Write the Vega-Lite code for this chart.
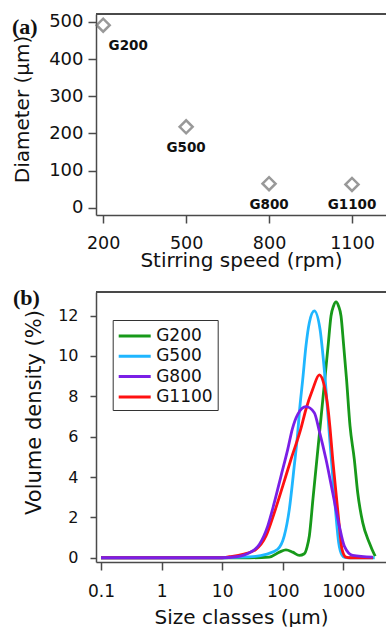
{
  "$schema": "https://vega.github.io/schema/vega-lite/v6.json",
  "background": "white",
  "padding": {"left": 11, "top": 12, "right": 0, "bottom": 0},
  "spacing": 16,
  "config": {
    "font": "DejaVu Sans",
    "view": {"stroke": null},
    "axis": {"grid": false, "domainColor": "#4a4a4a", "tickColor": "#4a4a4a", "domainWidth": 1.5, "tickWidth": 1.5, "labelColor": "#111", "titleColor": "#111", "labelFont": "DejaVu Sans", "titleFont": "DejaVu Sans", "titleFontWeight": "normal"}
  },
  "vconcat": [
    {
      "width": 290,
      "height": 201,
      "title": {"text": "(a)", "anchor": "start", "frame": "bounds", "font": "Liberation Serif", "fontSize": 22, "fontWeight": "bold", "color": "#111", "offset": -26},
      "data": {"values": [
        {"speed": 200, "diameter": 491, "sample": "G200"},
        {"speed": 500, "diameter": 218, "sample": "G500"},
        {"speed": 800, "diameter": 65, "sample": "G800"},
        {"speed": 1100, "diameter": 63, "sample": "G1100"}
      ]},
      "layer": [
        {
          "mark": {"type": "point", "shape": "diamond", "filled": false, "size": 170, "strokeWidth": 2.5, "color": "#6e6e6e"},
          "encoding": {
            "x": {"field": "speed", "type": "quantitative", "scale": {"domain": [174, 1223], "nice": false, "zero": false}, "axis": {"values": [200, 500, 800, 1100], "format": "d", "title": "Stirring speed (rpm)", "labelFontSize": 17.5, "titleFontSize": 20, "tickSize": 8, "labelPadding": 11, "titlePadding": -1}},
            "y": {"field": "diameter", "type": "quantitative", "scale": {"domain": [-19, 521], "nice": false, "zero": false}, "axis": {"values": [0, 100, 200, 300, 400, 500], "title": "Diameter (µm)", "labelFontSize": 18, "titleFontSize": 20, "tickSize": 8, "labelPadding": 5, "titleX": -64, "titleY": 95}}
          }
        },
        {
          "transform": [{"filter": "datum.sample === 'G200'"}],
          "mark": {"type": "text", "dx": 25, "dy": 21, "fontSize": 13.5, "fontWeight": "bold", "color": "#111"},
          "encoding": {
            "x": {"field": "speed", "type": "quantitative"},
            "y": {"field": "diameter", "type": "quantitative"},
            "text": {"field": "sample"}
          }
        },
        {
          "transform": [{"filter": "datum.sample !== 'G200'"}],
          "mark": {"type": "text", "dx": 0, "dy": 21, "fontSize": 13.5, "fontWeight": "bold", "color": "#111"},
          "encoding": {
            "x": {"field": "speed", "type": "quantitative"},
            "y": {"field": "diameter", "type": "quantitative"},
            "text": {"field": "sample"}
          }
        },
        {
          "mark": {"type": "rule", "color": "#4a4a4a", "strokeWidth": 1.5},
          "encoding": {"y": {"datum": 521, "type": "quantitative"}}
        }
      ]
    },
    {
      "width": 290,
      "height": 270,
      "title": {"text": "(b)", "anchor": "start", "frame": "bounds", "font": "Liberation Serif", "fontSize": 22, "fontWeight": "bold", "color": "#111", "offset": -19, "dx": -10},
      "data": {"values": [
        {"sample": "G200", "size": 0.1, "density": 0},
        {"sample": "G200", "size": 10, "density": 0},
        {"sample": "G200", "size": 28, "density": 0},
        {"sample": "G200", "size": 60, "density": 0.03},
        {"sample": "G200", "size": 88, "density": 0.28},
        {"sample": "G200", "size": 113, "density": 0.39},
        {"sample": "G200", "size": 146, "density": 0.28},
        {"sample": "G200", "size": 188, "density": 0.12},
        {"sample": "G200", "size": 227, "density": 0.2},
        {"sample": "G200", "size": 252, "density": 0.53},
        {"sample": "G200", "size": 275, "density": 1.08},
        {"sample": "G200", "size": 316, "density": 2.93},
        {"sample": "G200", "size": 368, "density": 4.94},
        {"sample": "G200", "size": 429, "density": 6.94},
        {"sample": "G200", "size": 499, "density": 8.94},
        {"sample": "G200", "size": 559, "density": 10.45},
        {"sample": "G200", "size": 627, "density": 11.98},
        {"sample": "G200", "size": 690, "density": 12.48},
        {"sample": "G200", "size": 758, "density": 12.68},
        {"sample": "G200", "size": 834, "density": 12.48},
        {"sample": "G200", "size": 917, "density": 11.98},
        {"sample": "G200", "size": 1009, "density": 10.6},
        {"sample": "G200", "size": 1130, "density": 8.86},
        {"sample": "G200", "size": 1291, "density": 6.53},
        {"sample": "G200", "size": 1520, "density": 4.88},
        {"sample": "G200", "size": 1730, "density": 3.22},
        {"sample": "G200", "size": 2093, "density": 1.74},
        {"sample": "G200", "size": 2690, "density": 0.74},
        {"sample": "G200", "size": 3251, "density": 0.17},
        {"sample": "G200", "size": 3375, "density": 0.08},
        {"sample": "G500", "size": 0.1, "density": 0},
        {"sample": "G500", "size": 10, "density": 0},
        {"sample": "G500", "size": 28, "density": 0.04},
        {"sample": "G500", "size": 53, "density": 0.17},
        {"sample": "G500", "size": 82.6, "density": 0.42},
        {"sample": "G500", "size": 106, "density": 1.08},
        {"sample": "G500", "size": 128.5, "density": 2.4},
        {"sample": "G500", "size": 155, "density": 4.55},
        {"sample": "G500", "size": 177, "density": 6.2},
        {"sample": "G500", "size": 188, "density": 7.19},
        {"sample": "G500", "size": 214, "density": 8.84},
        {"sample": "G500", "size": 242, "density": 10.5},
        {"sample": "G500", "size": 275, "density": 11.65},
        {"sample": "G500", "size": 332, "density": 12.23},
        {"sample": "G500", "size": 413, "density": 11.32},
        {"sample": "G500", "size": 457, "density": 10.16},
        {"sample": "G500", "size": 518, "density": 8.35},
        {"sample": "G500", "size": 588, "density": 6.13},
        {"sample": "G500", "size": 669, "density": 4.05},
        {"sample": "G500", "size": 758, "density": 2.07},
        {"sample": "G500", "size": 840, "density": 0.74},
        {"sample": "G500", "size": 953, "density": 0.13},
        {"sample": "G500", "size": 1050, "density": 0.02},
        {"sample": "G500", "size": 1200, "density": 0},
        {"sample": "G500", "size": 3300, "density": 0},
        {"sample": "G1100", "size": 0.1, "density": 0},
        {"sample": "G1100", "size": 10, "density": 0},
        {"sample": "G1100", "size": 13.1, "density": 0.05},
        {"sample": "G1100", "size": 21.9, "density": 0.17},
        {"sample": "G1100", "size": 36.2, "density": 0.42},
        {"sample": "G1100", "size": 53, "density": 1.08},
        {"sample": "G1100", "size": 72.6, "density": 2.23},
        {"sample": "G1100", "size": 100, "density": 3.55},
        {"sample": "G1100", "size": 137, "density": 4.88},
        {"sample": "G1100", "size": 200, "density": 6.41},
        {"sample": "G1100", "size": 242, "density": 7.36},
        {"sample": "G1100", "size": 313, "density": 8.35},
        {"sample": "G1100", "size": 402, "density": 9.06},
        {"sample": "G1100", "size": 486, "density": 8.51},
        {"sample": "G1100", "size": 553, "density": 7.52},
        {"sample": "G1100", "size": 604, "density": 6.42},
        {"sample": "G1100", "size": 669, "density": 4.88},
        {"sample": "G1100", "size": 758, "density": 3.22},
        {"sample": "G1100", "size": 860, "density": 1.57},
        {"sample": "G1100", "size": 953, "density": 0.42},
        {"sample": "G1100", "size": 1109, "density": 0.03},
        {"sample": "G1100", "size": 1300, "density": 0},
        {"sample": "G1100", "size": 3100, "density": 0},
        {"sample": "G800", "size": 0.1, "density": 0},
        {"sample": "G800", "size": 10, "density": 0},
        {"sample": "G800", "size": 16.9, "density": 0.05},
        {"sample": "G800", "size": 28.1, "density": 0.25},
        {"sample": "G800", "size": 41.1, "density": 0.66},
        {"sample": "G800", "size": 56.5, "density": 1.57},
        {"sample": "G800", "size": 72.6, "density": 2.73},
        {"sample": "G800", "size": 93.7, "density": 4.05},
        {"sample": "G800", "size": 121, "density": 5.37},
        {"sample": "G800", "size": 144, "density": 6.38},
        {"sample": "G800", "size": 177, "density": 7.11},
        {"sample": "G800", "size": 242, "density": 7.49},
        {"sample": "G800", "size": 332, "density": 7.19},
        {"sample": "G800", "size": 402, "density": 6.28},
        {"sample": "G800", "size": 518, "density": 4.88},
        {"sample": "G800", "size": 669, "density": 3.22},
        {"sample": "G800", "size": 860, "density": 1.57},
        {"sample": "G800", "size": 1040, "density": 0.58},
        {"sample": "G800", "size": 1431, "density": 0.12},
        {"sample": "G800", "size": 3061, "density": 0.03}
      ]},
      "layer": [
        {
          "mark": {"type": "line", "strokeWidth": 2.8, "interpolate": "monotone"},
          "encoding": {
            "x": {"field": "size", "type": "quantitative", "scale": {"type": "log", "domain": [0.0827, 5070], "nice": false}, "axis": {"values": [0.1, 1, 10, 100, 1000], "format": "~g", "title": "Size classes (µm)", "labelFontSize": 17, "titleFontSize": 20, "tickSize": 8, "labelPadding": 13, "titlePadding": 8}},
            "y": {"field": "density", "type": "quantitative", "scale": {"domain": [-0.21, 13.17], "nice": false, "zero": false}, "axis": {"values": [0, 2, 4, 6, 8, 10, 12], "title": "Volume density (%)", "labelFontSize": 16, "titleFontSize": 21, "tickSize": 6, "labelPadding": 12, "titleX": -52, "titleY": 120}},
            "color": {"field": "sample", "type": "nominal", "scale": {"domain": ["G200", "G500", "G800", "G1100"], "range": ["#17991a", "#1fb6ff", "#7a1fe6", "#ff1111"]}, "legend": {"title": null, "orient": "none", "legendX": 16.7, "legendY": 306, "symbolType": "M-1.6,0L1.6,0", "symbolSize": 400, "symbolStrokeWidth": 3, "symbolOffset": 6, "labelFontSize": 17, "labelFont": "DejaVu Sans", "labelColor": "#111", "strokeColor": "#333", "fillColor": "white", "padding": 4.5, "rowPadding": 0.3, "labelOffset": 10}}
          }
        },
        {
          "mark": {"type": "rule", "color": "#4a4a4a", "strokeWidth": 1.5},
          "encoding": {"y": {"datum": 13.17, "type": "quantitative"}}
        }
      ]
    }
  ]
}
